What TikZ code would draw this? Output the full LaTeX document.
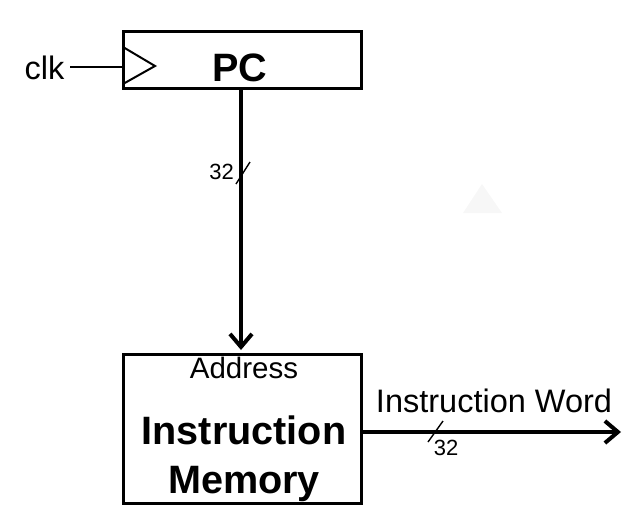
\documentclass[tikz,border=0pt]{standalone}
\usepackage{fontspec}
\setmainfont{Liberation Sans}
\usetikzlibrary{arrows.meta}
\begin{document}
\begin{tikzpicture}[x=1pt,y=-1pt,
  box/.style={draw,line width=3pt,inner sep=0pt,minimum width=238pt},
  bus/.style={line width=4pt,-{Straight Barb[length=13pt,width=22pt]}},
  thin/.style={line width=2pt},
  slashmark/.style={line width=1.4pt},
  lbl/.style={inner sep=0pt,anchor=base},
  bigb/.style={font=\fontsize{39.6}{44}\selectfont\bfseries},
  mid/.style={font=\fontsize{32.5}{36}\selectfont},
  small/.style={font=\fontsize{29.5}{34}\selectfont},
  tiny/.style={font=\fontsize{22}{26}\selectfont}]
\useasboundingbox (0,0) rectangle (642,514);
% faint background mark
\fill[black!3] (482,184) -- (502,213) -- (463,213) -- cycle;
% PC register
\node[box,minimum height=57pt] (pc) at (242,59.5) {};
\node[lbl,bigb] (pct) at (240,81) {PC};
\draw[thin,line join=miter] (123,47) coordinate (tri1) -- (155,66) coordinate (tritip) -- (123,84) coordinate (tri2);
% clock
\node[lbl,mid] (clk) at (44.5,79) {clk};
\coordinate (clkin) at (123,67);
\draw[thin] (70,67) coordinate (clkout) -- (clkin);
% instruction memory
\node[box,minimum height=149pt] (im) at (242,428.5) {};
\node[lbl,small] (addr) at (244,378) {Address};
\node[lbl,bigb] (imt1) at (244,444) {Instruction};
\node[lbl,bigb] (imt2) at (244,493) {Memory};
% address bus
\coordinate (pcout) at (241,88);
\coordinate (addrin) at (241,350);
\draw[bus] (pcout) -- (addrin);
\draw[slashmark] (236,184) coordinate (s1a) -- (250,162) coordinate (s1b);
\node[lbl,tiny] (w1) at (221.5,179) {32};
% instruction word bus
\coordinate (imout) at (361,432);
\coordinate (iwend) at (621,432);
\draw[bus] (imout) -- (iwend);
\draw[slashmark] (428,442) coordinate (s2a) -- (443,421) coordinate (s2b);
\node[lbl,tiny] (w2) at (446,455) {32};
\node[lbl,mid] (iw) at (494,412) {Instruction Word};
\end{tikzpicture}
\end{document}
